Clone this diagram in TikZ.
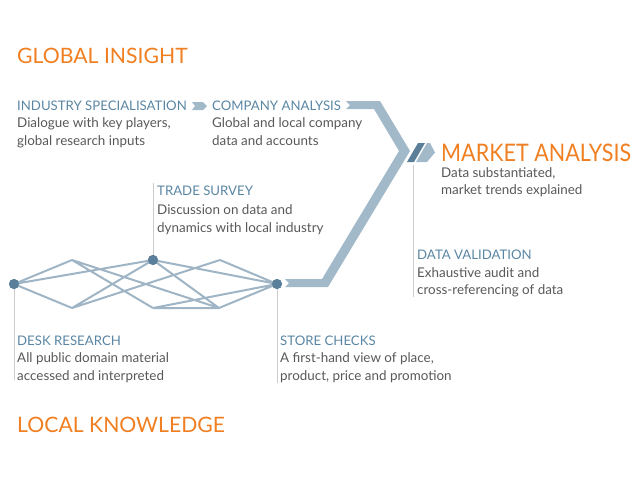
\documentclass[tikz,border=0pt]{standalone}
\usepackage{fontspec}
\setmainfont{Lato}
\definecolor{orng}{HTML}{F07F22}
\definecolor{headblue}{HTML}{5A86A3}
\definecolor{bodygray}{HTML}{585858}
\definecolor{netblue}{HTML}{9FB5C5}
\definecolor{dotblue}{HTML}{5A7F9A}
\definecolor{bandblue}{HTML}{A2B9C9}
\definecolor{darkband}{HTML}{5B7F99}
\definecolor{guidegray}{HTML}{CCCCCC}
\tikzset{
  heading/.style={anchor=base west, inner sep=0pt, text=headblue, font=\fontsize{13.2}{15}\selectfont},
  body/.style={anchor=base west, inner sep=0pt, text=bodygray, font=\fontsize{13.4}{15}\selectfont},
  bigtitle/.style={anchor=base west, inner sep=0pt, text=orng, font=\fontsize{21.2}{25}\selectfont},
  markettitle/.style={anchor=base west, inner sep=0pt, text=orng, font=\fontsize{24}{28}\selectfont},
  netline/.style={draw=netblue, line width=2pt},
  netdot/.style={circle, fill=dotblue, inner sep=0pt, minimum size=10pt},
  guide/.style={draw=guidegray, line width=0.8pt},
  band/.style={fill=bandblue},
  darkpart/.style={fill=darkband},
}
\begin{document}
\begin{tikzpicture}[x=1pt, y=-1pt]
\useasboundingbox (0,0) rectangle (640,480);

% titles
\node[bigtitle] (global) at (17,63) {GLOBAL INSIGHT};
\node[bigtitle] (local) at (17,432) {LOCAL KNOWLEDGE};
\node[markettitle] (market) at (441,161) {\resizebox{190pt}{17.5pt}{MARKET ANALYSIS}};
\node[body] (market1) at (441,177) {Data substantiated,};
\node[body] (market2) at (441,194.5) {market trends explained};

% guide lines
\coordinate (tsTop) at (153,183);
\coordinate (dvTop) at (413,165);
\coordinate (dvBot) at (413,297);
\coordinate (drBot) at (14,380);
\coordinate (scBot) at (277,383);

% network points
\coordinate (T1) at (72,260);
\coordinate (B1) at (72,308);
\coordinate (B2) at (153,308);
\coordinate (T3) at (220,260);
\coordinate (B3) at (219,308);

\draw[guide] (tsTop) -- (153,260);
\draw[guide] (dvTop) -- (dvBot);
\draw[guide] (14,284) -- (drBot);
\draw[guide] (277,284) -- (scBot);

% band
\fill[band] (346,101) -- (380,101) -- (410,151) -- (328,287) -- (285,287) -- (289,283)
  -- (285,279) -- (322,279) -- (399,151) -- (374,109) -- (346,109) -- (350,105) -- cycle;
\fill[darkpart] (407,162) -- (418,143) -- (425,143) -- (414,162) -- cycle;
\fill[band] (416,162) -- (427,143) -- (430,143) -- (435,152.5) -- (427,162) -- cycle;
\fill[band] (192,102) -- (203,102) -- (207,106) -- (203,110) -- (192,110) -- (195,106) -- cycle;

% network
\node[netdot] (L) at (14,284) {};
\node[netdot] (M) at (153,260) {};
\node[netdot] (R) at (277,284) {};
\draw[netline] (L.center) -- (T1) (L.center) -- (B1) (L.center) -- (M.center)
  (T1) -- (B2) (T1) -- (B3) (B1) -- (M.center) (B1) -- (T3)
  (M.center) -- (R.center) (M.center) -- (B3) (T3) -- (R.center)
  (B2) -- (B3) (B2) -- (R.center) (B3) -- (R.center);
\node[netdot] at (L) {};
\node[netdot] at (M) {};
\node[netdot] at (R) {};

% headings and texts
\node[heading] (ind) at (17,110) {INDUSTRY SPECIALISATION};
\node[body] (ind1) at (17,127.5) {Dialogue with key players,};
\node[body] (ind2) at (17,145) {global research inputs};

\node[heading] (comp) at (212,110) {COMPANY ANALYSIS};
\node[body] (comp1) at (212,127.5) {Global and local company};
\node[body] (comp2) at (212,145) {data and accounts};

\node[heading] (trade) at (157,195) {TRADE SURVEY};
\node[body] (trade1) at (157,214.5) {Discussion on data and};
\node[body] (trade2) at (157,232) {dynamics with local industry};

\node[heading] (dv) at (417,259) {DATA VALIDATION};
\node[body] (dv1) at (417,277) {Exhaustive audit and};
\node[body] (dv2) at (417,294.5) {cross-referencing of data};

\node[heading] (desk) at (17,345) {DESK RESEARCH};
\node[body] (desk1) at (17,362.5) {All public domain material};
\node[body] (desk2) at (17,380) {accessed and interpreted};

\node[heading] (store) at (280,345) {STORE CHECKS};
\node[body] (store1) at (280,362.5) {A first-hand view of place,};
\node[body] (store2) at (280,380) {product, price and promotion};
\end{tikzpicture}
\end{document}
